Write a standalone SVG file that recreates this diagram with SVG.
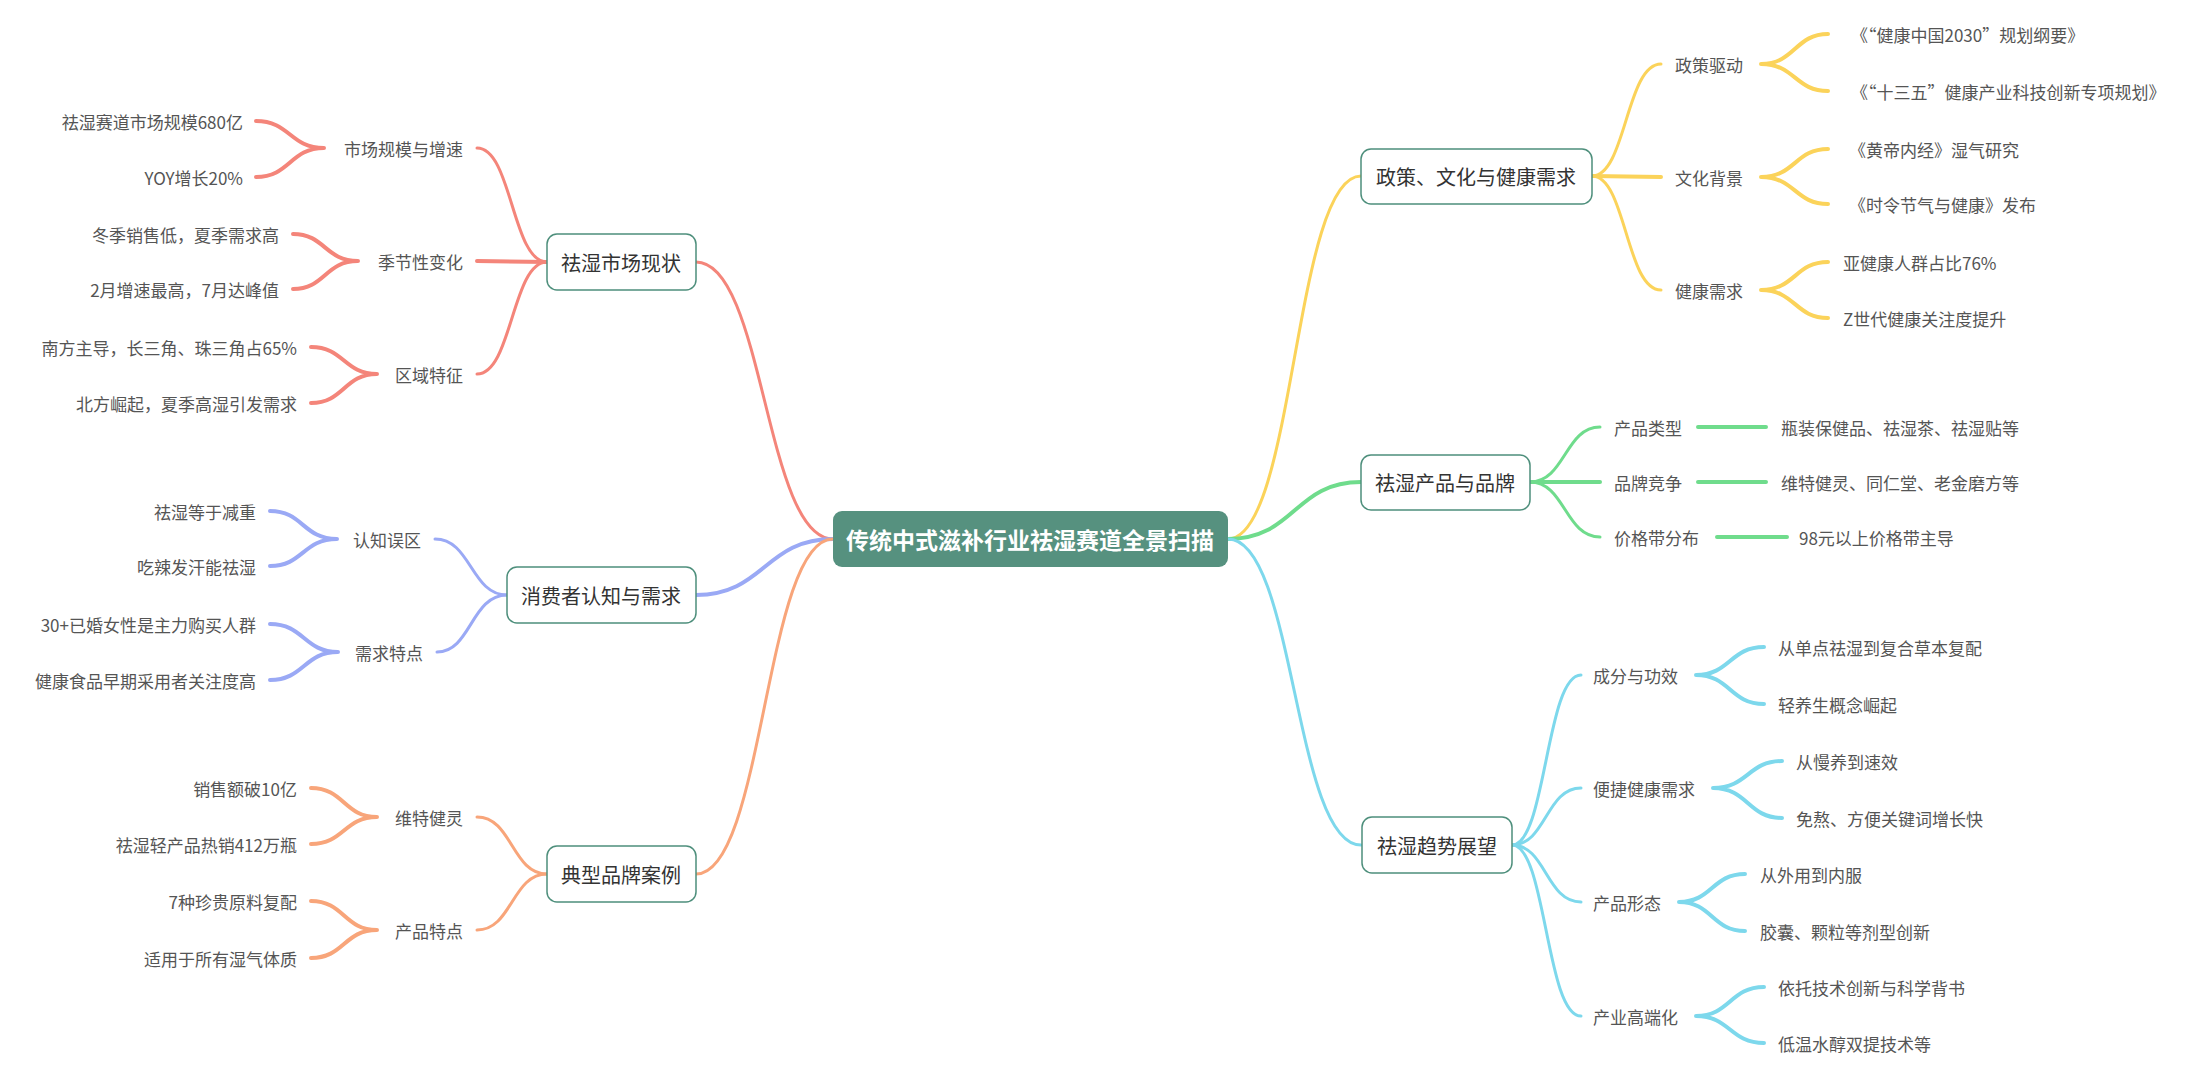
<svg xmlns="http://www.w3.org/2000/svg" width="2193" height="1080" viewBox="0 0 2193 1080">
<style>
text{font-family:"Noto Sans CJK SC","Noto Sans",sans-serif;fill:#555;dominant-baseline:central}
.t{font-size:17px}.l1{font-size:20px;fill:#333}.e{text-anchor:end}.m{text-anchor:middle}
.box{fill:#fff;stroke:#4e8f7c;stroke-width:1.5}
path{fill:none;stroke-linecap:round}
.r{stroke:#f4857a}.b{stroke:#9aa9f5}.o{stroke:#f8a57a}.y{stroke:#fbd35a}.g{stroke:#6fdc8c}.c{stroke:#7dd8ec}
.w3{stroke-width:3}.w4{stroke-width:4}
</style>
<rect width="2193" height="1080" fill="#fff"/>
<g id="connectors">
<path class="r w3" d="M833,539 C765,539 764,262 696,262"/>
<path class="b w4" d="M833,539 C765,539 764,595 696,595"/>
<path class="o w3" d="M833,539 C765,539 764,874 696,874"/>
<path class="y w3" d="M1228,539 C1295,539 1294,176 1361,176"/>
<path class="g w4" d="M1228,539 C1295,539 1294,482 1361,482"/>
<path class="c w3" d="M1228,539 C1295,539 1294,845 1361,845"/>
<path class="r w3" d="M547,262 C512,262 512,148 477,148"/>
<path class="r w4" d="M547,262 L477,261"/>
<path class="r w3" d="M547,262 C512,262 512,374 477,374"/>
<path class="b w3" d="M507,595 C471,595 471,539 435,539"/>
<path class="b w3" d="M507,595 C471,595 471,652 437,652"/>
<path class="o w3" d="M547,874 C512,874 512,817 477,817"/>
<path class="o w3" d="M547,874 C512,874 512,930 477,930"/>
<path class="y w3" d="M1592,176 C1626,176 1626,64 1661,64"/>
<path class="y w4" d="M1592,176 L1661,177"/>
<path class="y w3" d="M1592,176 C1626,176 1626,290 1661,290"/>
<path class="g w3" d="M1530,482 C1565,482 1565,427 1600,427"/>
<path class="g w4" d="M1530,482 L1600,482"/>
<path class="g w3" d="M1530,482 C1565,482 1565,537 1600,537"/>
<path class="g w4" d="M1698,427 L1766,427 M1698,482 L1766,482 M1717,537 L1787,537"/>
<path class="c w3" d="M1512,845 C1546,845 1546,675 1581,675"/>
<path class="c w3" d="M1512,845 C1546,845 1546,788 1581,788"/>
<path class="c w3" d="M1512,845 C1546,845 1546,902 1581,902"/>
<path class="c w3" d="M1512,845 C1546,845 1546,1016 1581,1016"/>
<path class="r w4" d="M324,148 C290,148 290,121 256,121 M324,148 C290,148 290,177 256,177"/>
<path class="r w4" d="M358,261 C325,261 325,234 293,234 M358,261 C325,261 325,289 293,289"/>
<path class="r w4" d="M377,374 C344,374 344,347 311,347 M377,374 C344,374 344,403 311,403"/>
<path class="b w4" d="M337,539 C303,539 303,511 270,511 M337,539 C303,539 303,566 270,566"/>
<path class="b w4" d="M338,652 C304,652 304,624 270,624 M338,652 C304,652 304,680 270,680"/>
<path class="o w4" d="M377,817 C344,817 344,788 311,788 M377,817 C344,817 344,844 311,844"/>
<path class="o w4" d="M377,930 C344,930 344,901 311,901 M377,930 C344,930 344,958 311,958"/>
<path class="y w4" d="M1761,64 C1795,64 1795,34 1828,34 M1761,64 C1795,64 1795,91 1828,91"/>
<path class="y w4" d="M1761,177 C1795,177 1795,149 1828,149 M1761,177 C1795,177 1795,204 1828,204"/>
<path class="y w4" d="M1761,290 C1795,290 1795,262 1828,262 M1761,290 C1795,290 1795,318 1828,318"/>
<path class="c w4" d="M1696,675 C1730,675 1730,647 1764,647 M1696,675 C1730,675 1730,704 1764,704"/>
<path class="c w4" d="M1713,788 C1748,788 1748,761 1782,761 M1713,788 C1748,788 1748,818 1782,818"/>
<path class="c w4" d="M1679,902 C1712,902 1712,874 1745,874 M1679,902 C1712,902 1712,931 1745,931"/>
<path class="c w4" d="M1696,1016 C1730,1016 1730,987 1764,987 M1696,1016 C1730,1016 1730,1043 1764,1043"/>
</g>
<g id="root"><rect x="833" y="511" width="395" height="56" rx="9" fill="#56917f"/><text x="1030" y="539" class="m" style="font-size:23px;font-weight:bold;fill:#fff">传统中式滋补行业祛湿赛道全景扫描</text></g>
<g id="n1"><rect class="box" x="547" y="234" width="149" height="56" rx="10"/><text class="l1 m" x="621" y="262">祛湿市场现状</text></g>
<g id="n2"><rect class="box" x="507" y="567" width="189" height="56" rx="10"/><text class="l1 m" x="601" y="595">消费者认知与需求</text></g>
<g id="n3"><rect class="box" x="547" y="846" width="149" height="56" rx="10"/><text class="l1 m" x="621" y="874">典型品牌案例</text></g>
<g id="n4"><rect class="box" x="1361" y="149" width="231" height="55" rx="10"/><text class="l1 m" x="1476" y="176">政策、文化与健康需求</text></g>
<g id="n5"><rect class="box" x="1361" y="455" width="169" height="55" rx="10"/><text class="l1 m" x="1445" y="482">祛湿产品与品牌</text></g>
<g id="n6"><rect class="box" x="1362" y="817" width="150" height="56" rx="10"/><text class="l1 m" x="1437" y="845">祛湿趋势展望</text></g>
<g id="l2left">
<text class="t e" x="463" y="148">市场规模与增速</text>
<text class="t e" x="463" y="261">季节性变化</text>
<text class="t e" x="463" y="374">区域特征</text>
<text class="t e" x="421" y="539">认知误区</text>
<text class="t e" x="423" y="652">需求特点</text>
<text class="t e" x="463" y="817">维特健灵</text>
<text class="t e" x="463" y="930">产品特点</text>
</g>
<g id="leavesleft">
<text class="t e" x="243" y="121">祛湿赛道市场规模680亿</text>
<text class="t e" x="243" y="177">YOY增长20%</text>
<text class="t e" x="279" y="234">冬季销售低，夏季需求高</text>
<text class="t e" x="279" y="289">2月增速最高，7月达峰值</text>
<text class="t e" x="297" y="347">南方主导，长三角、珠三角占65%</text>
<text class="t e" x="297" y="403">北方崛起，夏季高湿引发需求</text>
<text class="t e" x="256" y="511">祛湿等于减重</text>
<text class="t e" x="256" y="566">吃辣发汗能祛湿</text>
<text class="t e" x="256" y="624">30+已婚女性是主力购买人群</text>
<text class="t e" x="256" y="680">健康食品早期采用者关注度高</text>
<text class="t e" x="297" y="788">销售额破10亿</text>
<text class="t e" x="297" y="844">祛湿轻产品热销412万瓶</text>
<text class="t e" x="297" y="901">7种珍贵原料复配</text>
<text class="t e" x="297" y="958">适用于所有湿气体质</text>
</g>
<g id="l2right">
<text class="t" x="1675" y="64">政策驱动</text>
<text class="t" x="1675" y="177">文化背景</text>
<text class="t" x="1675" y="290">健康需求</text>
<text class="t" x="1614" y="427">产品类型</text>
<text class="t" x="1614" y="482">品牌竞争</text>
<text class="t" x="1614" y="537">价格带分布</text>
<text class="t" x="1593" y="675">成分与功效</text>
<text class="t" x="1593" y="788">便捷健康需求</text>
<text class="t" x="1593" y="902">产品形态</text>
<text class="t" x="1593" y="1016">产业高端化</text>
</g>
<g id="leavesright">
<text class="t" x="1851" y="34">《“健康中国2030”规划纲要》</text>
<text class="t" x="1851" y="91">《“十三五”健康产业科技创新专项规划》</text>
<text class="t" x="1849" y="149">《黄帝内经》湿气研究</text>
<text class="t" x="1849" y="204">《时令节气与健康》发布</text>
<text class="t" x="1843" y="262">亚健康人群占比76%</text>
<text class="t" x="1843" y="318">Z世代健康关注度提升</text>
<text class="t" x="1781" y="427">瓶装保健品、祛湿茶、祛湿贴等</text>
<text class="t" x="1781" y="482">维特健灵、同仁堂、老金磨方等</text>
<text class="t" x="1799" y="537">98元以上价格带主导</text>
<text class="t" x="1778" y="647">从单点祛湿到复合草本复配</text>
<text class="t" x="1778" y="704">轻养生概念崛起</text>
<text class="t" x="1796" y="761">从慢养到速效</text>
<text class="t" x="1796" y="818">免熬、方便关键词增长快</text>
<text class="t" x="1760" y="874">从外用到内服</text>
<text class="t" x="1760" y="931">胶囊、颗粒等剂型创新</text>
<text class="t" x="1778" y="987">依托技术创新与科学背书</text>
<text class="t" x="1778" y="1043">低温水醇双提技术等</text>
</g>
</svg>
